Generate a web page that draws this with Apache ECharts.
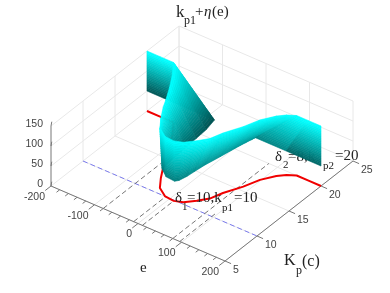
<!DOCTYPE html>
<html>
<head>
<meta charset="utf-8">
<title>kp1 surface</title>
<style>
html,body{margin:0;padding:0;background:#fff}
#chart{width:390px;height:293px}
</style>
</head>
<body>
<div id="chart"></div>
<script src="https://cdn.jsdelivr.net/npm/echarts@6/dist/echarts.min.js"></script>
<script>
var eTicks = [-200, -100, 0, 100, 200];
var eMinor = [-180, -160, -140, -120, -80, -60, -40, -20, 20, 40, 60, 80, 120, 140, 160, 180];
var kTicks = [5, 10, 15, 20, 25];
var zTicks = [0, 50, 100, 150];

// the ribbon, one row per ruling: same Kp at the top and at the bottom edge
var rowK =    [20, 20, 20, 18.3, 16.6, 14.7, 13.7, 12.1, 10.8, 10, 9.9, 10.25, 11.2, 12.2, 13.65, 15.6, 17.4, 18.8, 19.5, 20, 20, 20];
var rowTopE = [-200, -170, -139, -117, -98, -79, -70, -52, -35, -11, 10, 27, 44, 59, 68, 86, 98, 115, 128, 144, 170, 200];
var rowBotE = [-200, -122, -45, -39, -37, -35, -34, -32, -30, -9, 12, 17, 21, 23, 26, 33, 39, 44, 47, 49, 120, 200];
// green/blue level of the cyan at the bottom edge of each row
var rowBotShade = [85, 85, 80, 85, 95, 105, 110, 115, 120, 125, 125, 130, 135, 140, 145, 150, 150, 150, 150, 150, 115, 90];
var ribbonTopZ = 150;
var ribbonBotZ = 50;

var dashE = [-80, -10, 10, 80, 96];
var dashK = [14, 10, 10, 20, 10.5];
var blueK = 10;

var LAYERS = 24; // shading steps across the ribbon

// view of the 3d box on the page
function project(e, k, z) {
	var E = e + 200, K = k - 5;
	return [51 + 0.435 * E + 6.4 * K, 186 + 0.1875 * E - 5 * K - 0.4 * z];
}
function depth(e, k) {
	return 0.1875 * (e + 200) - 5 * (k - 5);
}

function seg(a, b) {
	return project(a[0], a[1], a[2]).concat(project(b[0], b[1], b[2]));
}

function segmentSeries(list, color, width, dash, z) {
	return {
		type: 'custom', coordinateSystem: 'cartesian2d', z: z, silent: true, clip: false,
		encode: {x: [0, 2], y: [1, 3]},
		data: list,
		renderItem: function (params, api) {
			var p = api.coord([api.value(0), api.value(1)]);
			var q = api.coord([api.value(2), api.value(3)]);
			return {
				type: 'line',
				shape: {x1: p[0], y1: p[1], x2: q[0], y2: q[1]},
				style: {stroke: color, lineWidth: width, lineDash: dash || null, fill: null}
			};
		}
	};
}

function tickTextSeries(list, align, dx, dy) {
	return {
		type: 'custom', coordinateSystem: 'cartesian2d', z: 3, silent: true, clip: false,
		encode: {x: 0, y: 1},
		data: list,
		renderItem: function (params, api) {
			var p = api.coord([api.value(0), api.value(1)]);
			return {
				type: 'text',
				style: {
					x: p[0] + dx, y: p[1] + dy, text: String(api.value(2)),
					align: align, verticalAlign: 'middle',
					font: '10.5px "Liberation Sans"', fill: '#444'
				}
			};
		}
	};
}

// grid on the two walls and the floor
var gridLines = [];
kTicks.forEach(function (k) {
	gridLines.push(seg([-200, k, 0], [200, k, 0]));
	if (k > 5) gridLines.push(seg([-200, k, 0], [-200, k, 150]));
});
eTicks.forEach(function (e) {
	gridLines.push(seg([e, 5, 0], [e, 25, 0]));
	gridLines.push(seg([e, 25, 0], [e, 25, 150]));
});
zTicks.forEach(function (z) {
	if (z == 0) return;
	gridLines.push(seg([-200, 5, z], [-200, 25, z]));
	gridLines.push(seg([-200, 25, z], [200, 25, z]));
});

var axisLines = [
	seg([-200, 5, 0], [-200, 5, 150]),
	seg([-200, 5, 0], [200, 5, 0]),
	seg([200, 5, 0], [200, 25, 0])
];
zTicks.forEach(function (z) { axisLines.push(seg([-200, 5, z], [-207, 5.6, z])); });
eTicks.forEach(function (e) { axisLines.push(seg([e, 5, 0], [e, 4.1, 0])); });
eMinor.forEach(function (e) { axisLines.push(seg([e, 5, 0], [e, 4.5, 0])); });
kTicks.forEach(function (k) { axisLines.push(seg([200, k, 0], [214, k, 0])); });

var dashLines = dashE.map(function (e, i) { return seg([e, 5, 0], [e, dashK[i], 0]); });

var redData = rowTopE.map(function (e, i) { return project(e, rowK[i], 0); });

// cells of the ribbon, far ones first
var cells = [];
for (var i = 0; i < rowK.length - 1; i++) cells.push(i);
function cellDepth(i) {
	return depth((rowTopE[i] + rowTopE[i + 1] + rowBotE[i] + rowBotE[i + 1]) / 4, (rowK[i] + rowK[i + 1]) / 2);
}
cells.sort(function (a, b) { return cellDepth(a) - cellDepth(b); });
var ribbonData = [];
cells.forEach(function (c) {
	for (var j = 0; j < LAYERS; j++) ribbonData.push([c, j]);
});

function shade(i, t) {
	// cyan at the top edge, the row's own dark level at the bottom edge
	var bot = (rowBotShade[i] + rowBotShade[i + 1]) / 2;
	var g = t < 0.05 ? 255 : Math.round(255 - (t - 0.05) / 0.95 * (255 - bot));
	return 'rgb(0,' + g + ',' + g + ')';
}
function along(i, t) {
	// a point on ruling i, t=0 at the top edge and t=1 at the bottom edge
	var top = project(rowTopE[i], rowK[i], ribbonTopZ), bot = project(rowBotE[i], rowK[i], ribbonBotZ);
	return [top[0] + (bot[0] - top[0]) * t, top[1] + (bot[1] - top[1]) * t];
}

var ribbonSeries = {
	type: 'custom', coordinateSystem: 'cartesian2d', z: 5, silent: true, clip: false,
	encode: {x: 0},
	data: ribbonData,
	renderItem: function (params, api) {
		var i = api.value(0), j = api.value(1);
		var t0 = j / LAYERS, t1 = (j + 1) / LAYERS;
		var color = shade(i, (t0 + t1) / 2);
		return {
			type: 'polygon',
			shape: {points: [
				api.coord(along(i, t0)), api.coord(along(i + 1, t0)),
				api.coord(along(i + 1, t1)), api.coord(along(i, t1))
			]},
			style: {fill: color, stroke: color, lineWidth: 0.6}
		};
	}
};

var serif = '"Liberation Serif"';
function label(text, x, y, size, z, italic) {
	return {
		type: 'text', x: x, y: y, z: z, silent: true,
		style: {
			text: text, fill: '#222', verticalAlign: 'middle',
			font: (italic ? 'italic ' : '') + size + 'px ' + serif
		}
	};
}

var myChart = echarts.init(document.getElementById('chart'), null, {renderer: 'canvas'});
myChart.setOption({
	animation: false,
	grid: {left: 0, top: 0, width: 390, height: 293},
	xAxis: {type: 'value', min: 0, max: 390, show: false},
	yAxis: {type: 'value', min: 0, max: 293, inverse: true, show: false},
	graphic: {elements: [
		label('k', 176, 13, 17, 10),
		label('p1', 184, 21, 12, 10),
		label('+', 195, 12, 15, 10),
		label('η', 204, 12, 15, 10, true),
		label('(e)', 212, 12, 15, 10),

		label('δ', 175, 198, 15, 4),
		label('1', 182, 207, 11, 4),
		label('=10,k', 187, 198, 15, 4),
		label('p1', 222, 208, 11, 4),
		label('=10', 234, 198, 15, 4),

		label('δ', 275, 157, 15, 4),
		label('2', 283, 165, 11, 4),
		label('=8,k', 288, 157, 15, 4),
		label('p2', 323, 166, 11, 4),
		label('=20', 335, 156, 15, 4),

		label('e', 140, 268, 15, 10),
		label('K', 284, 261, 16, 10),
		label('p', 296, 271, 12, 10),
		label('(c)', 302, 262, 16, 10)
	]},
	series: [
		segmentSeries(gridLines, '#e8e8e8', 1, null, 1),
		segmentSeries([seg([-200, blueK, 0], [200, blueK, 0])], '#6f6fee', 0.9, [5, 3], 2),
		segmentSeries(dashLines, '#666', 0.9, [5, 3], 2),
		segmentSeries(axisLines, '#777', 1, null, 2),
		{
			type: 'line', z: 3, silent: true, clip: false, symbol: 'none',
			data: redData,
			lineStyle: {color: '#f00000', width: 2}
		},
		tickTextSeries(zTicks.map(function (z) { return project(-200, 5, z).concat(z); }), 'right', -8, -1.5),
		tickTextSeries(eTicks.map(function (e) { return project(e, 5, 0).concat(e); }), 'right', -6, 11),
		tickTextSeries(kTicks.map(function (k) { return project(200, k, 0).concat(k); }), 'left', 8, 9),
		ribbonSeries
	]
});
</script>
</body>
</html>
